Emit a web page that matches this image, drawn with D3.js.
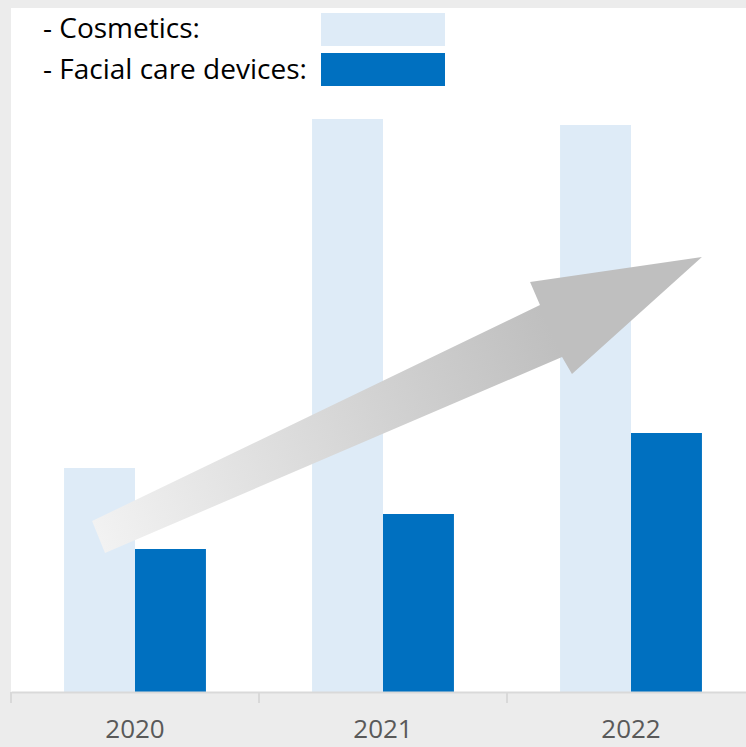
<!DOCTYPE html>
<html>
<head>
<meta charset="utf-8">
<script src="https://cdn.jsdelivr.net/npm/d3@7"></script>
<style>
  body { margin: 0; background: #ececec; }
  svg { display: block; }
</style>
</head>
<body>
<div id="chart"></div>
<script>
// chart data
const years = ["2020", "2021", "2022"];
const cosmetics = [224, 573, 567];
const devices = [143, 178, 259];
const seriesNames = ["- Cosmetics:", "- Facial care devices:"];
const seriesColors = ["#deebf7", "#0070c0"];

// trend arrow outline, in (category position, value) units
const arrowPoints = [
  [0.327, 171], [2.133, 387], [2.093, 410], [2.786, 435],
  [2.262, 318], [2.222, 335], [0.379, 139]
];

const width = 746;
const height = 747;
const margin = {top: 8, right: -9, bottom: 55, left: 11};
const plotBottom = height - margin.bottom;

const svg = d3.select("#chart")
  .append("svg")
  .attr("width", width)
  .attr("height", height);

// white plot panel
svg.append("rect")
  .attr("x", margin.left)
  .attr("y", margin.top)
  .attr("width", width - margin.left)
  .attr("height", plotBottom - margin.top)
  .attr("fill", "#ffffff");

// band scale for the years
const x = d3.scaleBand()
  .domain(years)
  .range([margin.left, width - margin.right]);

// inner band for the two series
const xSeries = d3.scaleBand()
  .domain([0, 1])
  .range([0, x.bandwidth()])
  .paddingInner(0)
  .paddingOuter(0.748);

// continuous category position, for the arrow
const xPos = d3.scaleLinear()
  .domain([0, years.length])
  .range([margin.left, width - margin.right]);

const y = d3.scaleLinear()
  .domain([0, 700])
  .range([plotBottom, plotBottom - 700]);

const rows = years.map((yr, i) => ({year: yr, values: [cosmetics[i], devices[i]]}));

// bars
svg.append("g")
  .selectAll("g")
  .data(rows)
  .enter()
  .append("g")
  .attr("transform", d => `translate(${x(d.year)},0)`)
  .selectAll("rect")
  .data(d => d.values.map((v, k) => ({k, v})))
  .enter()
  .append("rect")
  .attr("x", d => xSeries(d.k))
  .attr("y", d => y(d.v))
  .attr("width", xSeries.bandwidth())
  .attr("height", d => plotBottom - y(d.v))
  .attr("fill", d => seriesColors[d.k]);

// arrow gradient
const pts = arrowPoints.map(p => [xPos(p[0]), y(p[1])]);
const grad = svg.append("defs")
  .append("linearGradient")
  .attr("id", "arrowGrad")
  .attr("gradientUnits", "userSpaceOnUse")
  .attr("x1", (pts[0][0] + pts[6][0]) / 2)
  .attr("y1", (pts[0][1] + pts[6][1]) / 2)
  .attr("x2", (pts[1][0] + pts[5][0]) / 2)
  .attr("y2", (pts[1][1] + pts[5][1]) / 2);
grad.append("stop").attr("offset", "0%").attr("stop-color", "#f2f2f2");
grad.append("stop").attr("offset", "100%").attr("stop-color", "#bfbfbf");

svg.append("path")
  .attr("d", d3.line()(pts) + "Z")
  .attr("fill", "url(#arrowGrad)");

// x axis
const axis = svg.append("g")
  .attr("transform", `translate(0,${plotBottom})`)
  .call(d3.axisBottom(x).tickSize(0).tickPadding(28));
axis.select(".domain").attr("stroke", "#d9d9d9").attr("stroke-width", 2);
axis.selectAll("text")
  .attr("fill", "#595959")
  .style("font-family", "'Open Sans', sans-serif")
  .style("font-size", "26px");

// category boundary ticks
axis.selectAll("line.sep")
  .data(years)
  .enter()
  .append("line")
  .attr("class", "sep")
  .attr("x1", d => x(d))
  .attr("x2", d => x(d))
  .attr("y1", 0)
  .attr("y2", 11)
  .attr("stroke", "#d9d9d9")
  .attr("stroke-width", 2);

// legend
const legend = svg.append("g");
seriesNames.forEach((name, i) => {
  legend.append("text")
    .attr("x", 43)
    .attr("y", 38 + i * 41)
    .attr("fill", "#000000")
    .style("font-family", "'Open Sans', sans-serif")
    .style("font-size", "28px")
    .text(name);
  legend.append("rect")
    .attr("x", 321)
    .attr("y", 13 + i * 40)
    .attr("width", 124)
    .attr("height", 33)
    .attr("fill", seriesColors[i]);
});
</script>
</body>
</html>
